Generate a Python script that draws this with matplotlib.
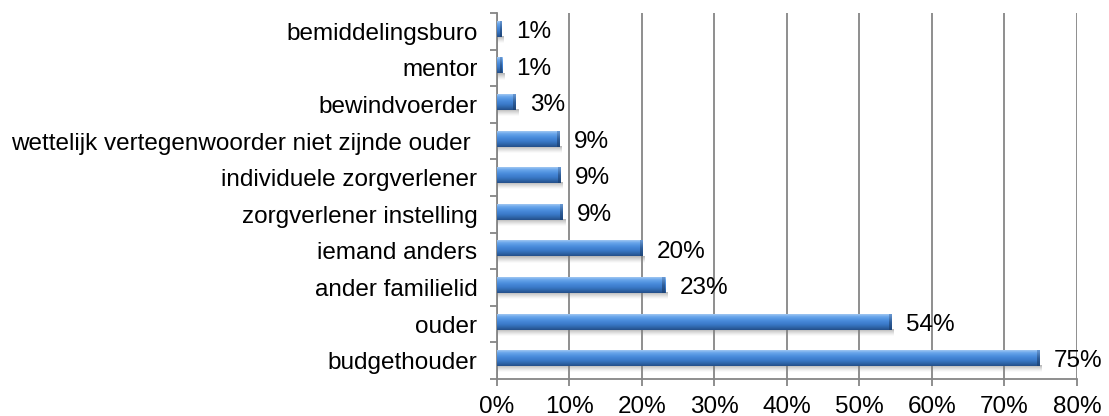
import numpy as np
import matplotlib.pyplot as plt
from matplotlib.colors import LinearSegmentedColormap

# categorieen (van boven naar beneden) en aandelen in procenten
categorieen = [
    "bemiddelingsburo", "mentor", "bewindvoerder",
    "wettelijk vertegenwoorder niet zijnde ouder ",
    "individuele zorgverlener", "zorgverlener instelling",
    "iemand anders", "ander familielid", "ouder", "budgethouder",
]
aandelen = [0.6, 0.7, 2.6, 8.6, 8.8, 9.1, 20.1, 23.2, 54.4, 74.8]
x_ticks = [0, 10, 20, 30, 40, 50, 60, 70, 80]

plt.rcParams['font.family'] = ['Liberation Sans', 'DejaVu Sans']

fig = plt.figure(figsize=(11.09, 4.16), dpi=100)
ax = fig.add_axes([0.448, 0.089, 0.523, 0.880])

n = len(categorieen)
ypos = np.arange(n)
hoogte = 0.42

# verloop voor de "3D" balken
balk_cmap = LinearSegmentedColormap.from_list(
    "balk", [(0, "#a4c8f2"), (0.15, "#6aa7ec"), (0.4, "#4a8cdc"),
             (0.65, "#3a79c8"), (0.88, "#2c60a1"), (1, "#234e88")])
kop_cmap = LinearSegmentedColormap.from_list(
    "kop", ["#6a9ad4", "#2f5f9c", "#1d4477"])
schaduw_cmap = LinearSegmentedColormap.from_list(
    "schaduw", [(0, (0.45, 0.45, 0.45, 0.55)), (1, (0.6, 0.6, 0.6, 0.0))])
verloop = np.linspace(0, 1, 64).reshape(-1, 1)

for y, v in zip(ypos, aandelen):
    top = y - hoogte / 2 - 0.06
    bot = y + hoogte / 2 - 0.06
    # schaduw onder de balk
    ax.imshow(verloop, cmap=schaduw_cmap, aspect="auto",
              extent=(0, v + 0.3, bot + 0.17, bot - 0.02), zorder=2,
              interpolation="bicubic")
    ax.imshow(verloop, cmap=balk_cmap, aspect="auto",
              extent=(0, v, bot, top), zorder=3, interpolation="bicubic")
    # donkere kopse kant
    kop = min(0.35, v * 0.3)
    ax.imshow(verloop, cmap=kop_cmap, aspect="auto",
              extent=(v - kop, v, bot, top), zorder=4, interpolation="bicubic")
    ax.text(v + 2.0, y + 0.02, f"{v:.0f}%", va="center", ha="left",
            fontsize=17.5, color="black", zorder=5)

ax.set_xlim(0, 80)
ax.set_ylim(n - 0.5, -0.5)
ax.set_xticks(x_ticks)
ax.set_xticklabels([f"{t}%" for t in x_ticks], fontsize=17.5)
ax.set_yticks(ypos)
ax.set_yticklabels(categorieen, fontsize=17.5)
ax.set_yticks(np.arange(-0.5, n, 1), minor=True)
ax.tick_params(axis="y", which="major", length=0, pad=14)
ax.tick_params(axis="y", which="minor", length=5, width=1.3, color="#868686",
               direction="out")
ax.tick_params(axis="x", length=5, width=1.3, color="#868686", pad=7,
               direction="out")

ax.grid(axis="x", color="#868686", linewidth=1.3, zorder=1)
ax.set_axisbelow(True)
for s in ["top", "right"]:
    ax.spines[s].set_visible(False)
for s in ["left", "bottom"]:
    ax.spines[s].set_color("#868686")
    ax.spines[s].set_linewidth(1.3)

fig.savefig("out.png", dpi=100)
